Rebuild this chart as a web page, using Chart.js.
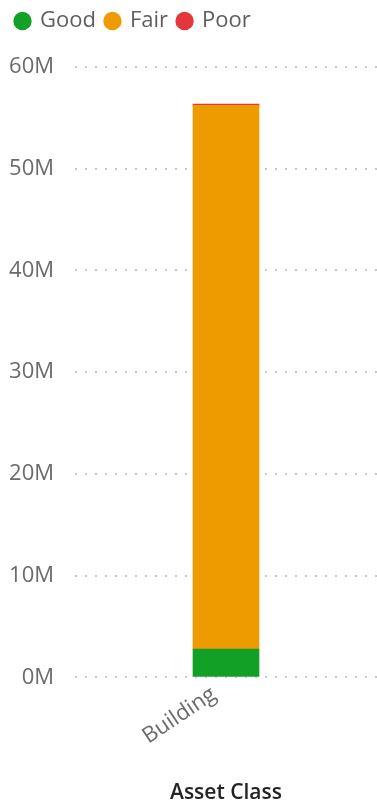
<!DOCTYPE html>
<html>
<head>
<meta charset="utf-8">
<script src="https://cdn.jsdelivr.net/npm/chart.js@4/dist/chart.umd.min.js"></script>
<style>
  html, body { margin: 0; padding: 0; background: #fff; }
  #wrap { width: 377px; height: 803px; }
</style>
</head>
<body>
<div id="wrap"><canvas id="chart" width="377" height="803"></canvas></div>
<script>
// categories and series (values in millions)
const categories = ["Building"];
const goodVals = [2.78];
const fairVals = [53.45];
const poorVals = [0.12];
const yTicks = [0, 10, 20, 30, 40, 50, 60];

const fontFam = "'Segoe UI', 'Open Sans', 'Noto Sans', sans-serif";

let ctx = document.getElementById("chart").getContext("2d");

// push the plot down a bit below the legend
const legendGap = {
    id: "legendGap",
    beforeInit(chart) {
        const fit = chart.legend.fit;
        chart.legend.fit = function () {
            fit.bind(chart.legend)();
            this.height += 25;
        };
    }
};

let data = {
    labels: categories,
    datasets: [
        { label: "Good", data: goodVals, backgroundColor: "#12A027", borderWidth: 0 },
        { label: "Fair", data: fairVals, backgroundColor: "#EE9B00", borderWidth: 0 },
        { label: "Poor", data: poorVals, backgroundColor: "#E4373B", borderWidth: 0 }
    ]
};

let config = {
    type: "bar",
    data: data,
    options: {
        responsive: false,
        animation: false,
        layout: { padding: { left: 6, right: 0, top: 0, bottom: -3 } },
        datasets: { bar: { barThickness: 66 } },
        plugins: {
            tooltip: { enabled: false },
            legend: {
                position: "top",
                align: "start",
                labels: {
                    usePointStyle: true,
                    pointStyle: "circle",
                    boxWidth: 13,
                    boxHeight: 13,
                    padding: 10,
                    color: "#605E5C",
                    font: { family: fontFam, size: 22 }
                }
            }
        },
        scales: {
            x: {
                stacked: true,
                grid: { display: false, drawTicks: false },
                border: { display: false },
                ticks: {
                    minRotation: 34,
                    maxRotation: 34,
                    color: "#6B6B6B",
                    font: { family: fontFam, size: 22 },
                    padding: 4,
                    labelOffset: -12
                },
                title: {
                    display: true,
                    text: "Asset Class",
                    color: "#252423",
                    font: { family: fontFam, size: 21, weight: "600" },
                    padding: { top: 27, bottom: 0 }
                }
            },
            y: {
                stacked: true,
                min: 0,
                max: 60,
                afterBuildTicks: (axis) => { axis.ticks = yTicks.map(v => ({ value: v })); },
                // fixed axis width so labels sit where the reference has them
                afterFit: (scale) => { scale.width = 69; },
                grid: {
                    color: "#C8C8C8",
                    lineWidth: 2,
                    drawTicks: false
                },
                border: { display: false, dash: [2, 8] },
                ticks: {
                    color: "#6B6B6B",
                    font: { family: fontFam, size: 22 },
                    padding: 21,
                    callback: (v) => v + "M"
                }
            }
        }
    },
    plugins: [legendGap]
};

let chart = new Chart(ctx, config);
</script>
</body>
</html>
